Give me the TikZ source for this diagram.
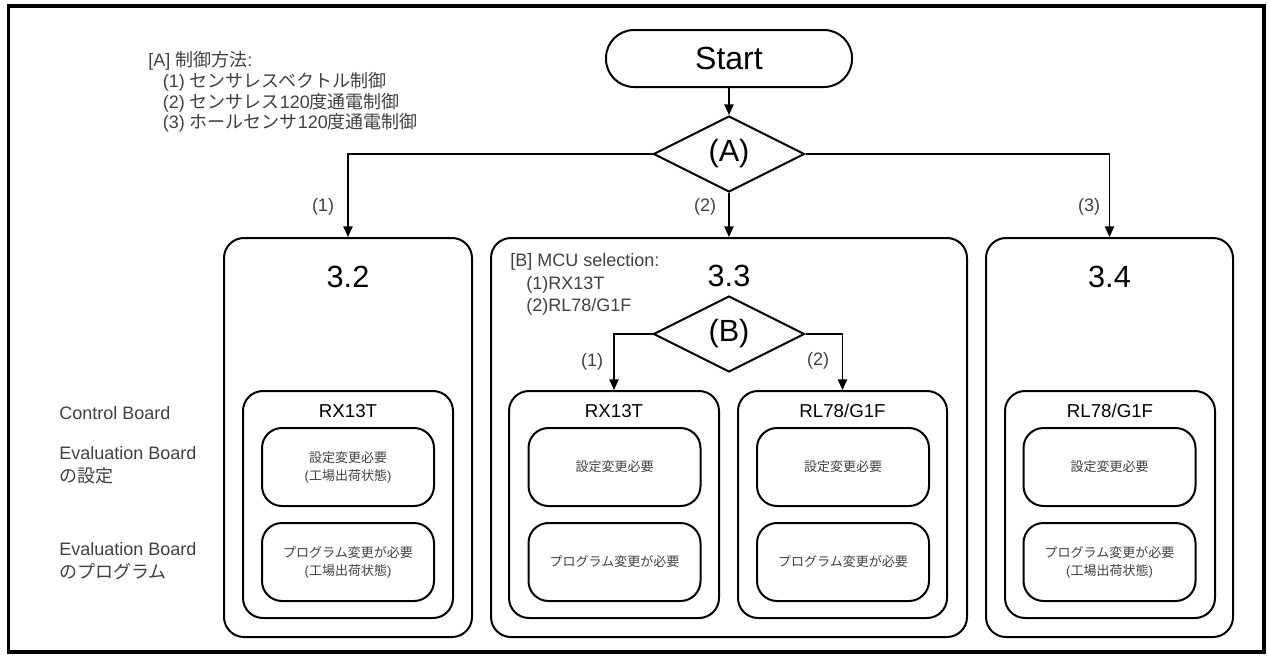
\documentclass[tikz,border=0pt]{standalone}
\usepackage{fontspec}
\setmainfont{Liberation Sans}
\newfontfamily\jp{Noto Sans CJK JP}
\usetikzlibrary{shapes.geometric,arrows.meta}
\definecolor{txtgray}{HTML}{404040}
\begin{document}
\begin{tikzpicture}[x=0.75pt,y=-0.75pt,
  box/.style={draw, rounded corners=15pt, line width=1.5pt, inner sep=0},
  panel/.style={box, minimum height=299.25pt},
  mcubox/.style={box, minimum width=157.5pt, minimum height=170.25pt},
  subbox/.style={box, minimum width=129pt, minimum height=58.5pt, text=txtgray,
    align=center, font=\fontsize{9.75}{13.5}\selectfont},
  diam/.style={draw, diamond, aspect=2, inner sep=0, minimum width=113.25pt,
    minimum height=57pt, line width=1.5pt, font=\fontsize{23}{27}\selectfont},
  conn/.style={line width=1.1pt, -{Triangle[length=8pt,width=7pt]}},
  lbl/.style={text=txtgray, font=\fontsize{13.5}{16}\selectfont, inner sep=0},
  big/.style={font=\fontsize{23}{27}\selectfont, inner sep=0},
  mcu/.style={font=\fontsize{14}{17}\selectfont, inner sep=0}]
\useasboundingbox (0,0) rectangle (1268,657);
\draw[line width=2.6pt] (8.5,6) rectangle (1264,652);

% top label
\node[lbl, anchor=west, align=left, font=\fontsize{13.5}{15.6}\selectfont] (la) at (148,92)
  {[A] {\jp 制御方法}:\\
   \hspace*{11pt}(1) {\jp センサレスベクトル制御}\\
   \hspace*{11pt}(2) {\jp センサレス}120{\jp 度通電制御}\\
   \hspace*{11pt}(3) {\jp ホールセンサ}120{\jp 度通電制御}};

% start and decision A
\node[draw, line width=1.5pt, rounded corners=21pt, minimum width=184.5pt,
  minimum height=42.75pt, font=\fontsize{24}{28}\selectfont] (start) at (729,58.5) {Start};
\node[diam] (dA) at (729,154) {(A)};

% panels
\node[panel, minimum width=186pt] (p32) at (348,437.5) {};
\node[panel, minimum width=357pt] (p33) at (729,437.5) {};
\node[panel, minimum width=185.25pt] (p34) at (1109.5,437.5) {};
\node[big] (t32) at (348,277) {3.2};
\node[big] (t33) at (729,276) {3.3};
\node[big] (t34) at (1109.5,277) {3.4};

% connectors from A
\draw[conn] (start) -- (dA);
\draw[conn] (dA.west) -| (p32.north);
\draw[conn] (dA.south) -- (p33.north);
\draw[conn] (dA.east) -| (p34.north);
\node[lbl] (l1) at (323,207) {(1)};
\node[lbl] (l2) at (705,207) {(2)};
\node[lbl] (l3) at (1089,207) {(3)};

% B label and decision
\node[lbl, anchor=west, align=left, font=\fontsize{13.5}{16.9}\selectfont] (lb) at (510,284.5)
  {[B] MCU selection:\\ \hspace*{12pt}(1)RX13T\\ \hspace*{12pt}(2)RL78/G1F};
\node[diam] (dB) at (729,334) {(B)};

% MCU boxes
\node[mcubox] (m32) at (348,504.5) {};
\node[mcubox] (m33a) at (614,504.5) {};
\node[mcubox, minimum width=156.75pt] (m33b) at (842.5,504.5) {};
\node[mcubox] (m34) at (1110,504.5) {};
\node[mcu] (n32) at (348,411) {RX13T};
\node[mcu] (n33a) at (614,411) {RX13T};
\node[mcu] (n33b) at (842.5,411) {RL78/G1F};
\node[mcu] (n34) at (1110,411) {RL78/G1F};

\draw[conn] (dB.west) -| (m33a.north);
\draw[conn] (dB.east) -| (m33b.north);
\node[lbl] (lb1) at (592,362) {(1)};
\node[lbl] (lb2) at (818,361) {(2)};

% sub boxes
\node[subbox] (s32a) at (348,467) {{\jp 設定変更必要}\\({\jp 工場出荷状態})};
\node[subbox] (s32b) at (348,562) {{\jp プログラム変更が必要}\\({\jp 工場出荷状態})};
\node[subbox] (s33aa) at (614.5,467) {\jp 設定変更必要};
\node[subbox] (s33ab) at (614.5,562) {\jp プログラム変更が必要};
\node[subbox] (s33ba) at (843,467) {\jp 設定変更必要};
\node[subbox] (s33bb) at (843,562) {\jp プログラム変更が必要};
\node[subbox] (s34a) at (1109.5,467) {\jp 設定変更必要};
\node[subbox] (s34b) at (1109.5,562) {{\jp プログラム変更が必要}\\({\jp 工場出荷状態})};

% left row labels
\node[lbl, anchor=west] (rc) at (59,413) {Control Board};
\node[lbl, anchor=west, align=left, font=\fontsize{13.5}{17.25}\selectfont] (re1) at (59,465.5)
  {Evaluation Board\\{\jp の設定}};
\node[lbl, anchor=west, align=left, font=\fontsize{13.5}{17.25}\selectfont] (re2) at (59,561)
  {Evaluation Board\\{\jp のプログラム}};
\end{tikzpicture}
\end{document}
